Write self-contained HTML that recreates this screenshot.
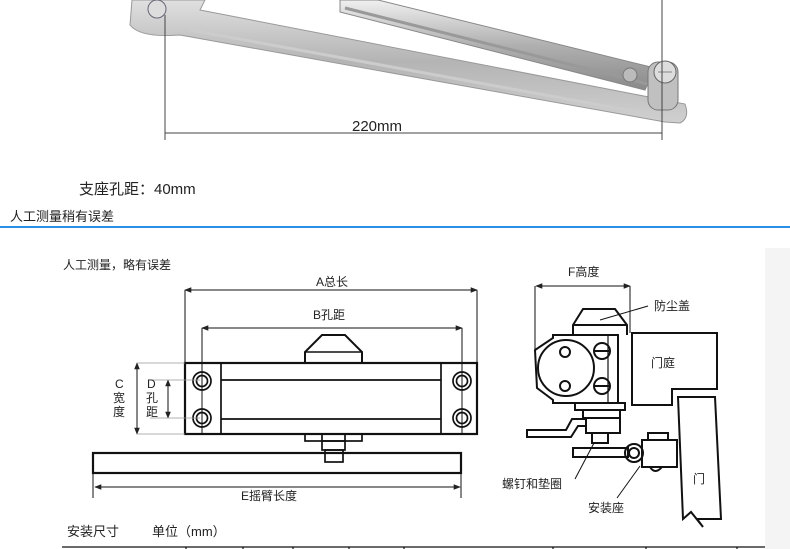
<!DOCTYPE html>
<html><head><meta charset="utf-8"><style>
html,body{margin:0;padding:0;background:#fff;}
body{width:790px;height:549px;overflow:hidden;position:relative;font-family:"Liberation Sans","Noto Sans CJK SC",sans-serif;}
svg{position:absolute;left:0;top:0;}
text{font-family:"Liberation Sans","Noto Sans CJK SC",sans-serif;fill:#222;}
</style></head><body>
<svg width="790" height="549" viewBox="0 0 790 549">
<defs>
<linearGradient id="g1" x1="0" y1="0" x2="0" y2="1">
<stop offset="0" stop-color="#e0e0e0"/><stop offset="0.5" stop-color="#b4b4b4"/><stop offset="1" stop-color="#d0d0d0"/>
</linearGradient>
<linearGradient id="g2" x1="0" y1="0" x2="0" y2="1">
<stop offset="0" stop-color="#f0f0f0"/><stop offset="0.5" stop-color="#b0b0b0"/><stop offset="1" stop-color="#8a8a8a"/>
</linearGradient>
<marker id="ar" viewBox="0 0 10 10" refX="9" refY="5" markerWidth="7" markerHeight="7" orient="auto-start-reverse"><path d="M0,1 L10,5 L0,9 z" fill="#222"/></marker>
</defs>
<rect x="765" y="248" width="25" height="301" fill="#f4f4f4"/>
<!-- photo arm -->
<path d="M132,0 L205,0 L200,10 L685,104 Q690,118 680,123 L665,122 L180,35 Q140,38 130,25 Z" fill="url(#g1)" stroke="#999" stroke-width="1"/>
<path d="M190,30 L665,117" stroke="#ccc" stroke-width="3"/>
<path d="M340,0 L378,0 L655,68 L645,90 L340,12 Z" fill="url(#g2)" stroke="#888" stroke-width="1"/>
<path d="M345,8 L648,84" stroke="#999" stroke-width="3"/>
<rect x="648" y="62" width="30" height="48" rx="10" fill="#c0c0c0" stroke="#777"/>
<circle cx="665" cy="72" r="11" fill="#ddd" stroke="#666"/>
<line x1="658" y1="72" x2="672" y2="72" stroke="#888"/>
<circle cx="630" cy="75" r="7" fill="#bbb" stroke="#777"/>
<circle cx="157" cy="9" r="9" fill="#ddd" stroke="#667"/>
<line x1="165" y1="15" x2="165" y2="140" stroke="#444"/>
<line x1="662" y1="0" x2="662" y2="140" stroke="#444"/>
<line x1="165" y1="133" x2="662" y2="133" stroke="#444"/>
<text x="352" y="131" font-size="15">220mm</text>
<text x="79" y="194" font-size="15">支座孔距：40mm</text>
<text x="10" y="221" font-size="13">人工测量稍有误差</text>
<rect x="0" y="226" width="790" height="2" fill="#2a8fe8"/>
<!-- left diagram -->
<g fill="none" stroke="#111" stroke-width="1.7">
<text x="63" y="269" font-size="12" stroke="none">人工测量，略有误差</text>
<line x1="185" y1="290" x2="477" y2="290" marker-start="url(#ar)" marker-end="url(#ar)" stroke-width="1"/>
<line x1="185" y1="290" x2="185" y2="363" stroke-width="1"/>
<line x1="477" y1="290" x2="477" y2="363" stroke-width="1"/>
<line x1="202" y1="328" x2="462" y2="328" marker-start="url(#ar)" marker-end="url(#ar)" stroke-width="1"/>
<line x1="202" y1="328" x2="202" y2="434" stroke-width="1"/>
<line x1="462" y1="328" x2="462" y2="434" stroke-width="1"/>
<path d="M305,363 L305,352 L322,335 L345,335 L362,352 L362,363" stroke-width="2"/>
<line x1="305" y1="352" x2="362" y2="352" stroke-width="1.5"/>
<rect x="185" y="363" width="292" height="71" stroke-width="2.2"/>
<line x1="221" y1="363" x2="221" y2="434"/>
<line x1="441" y1="363" x2="441" y2="434"/>
<line x1="221" y1="380" x2="441" y2="380"/>
<line x1="221" y1="419" x2="441" y2="419"/>
<circle cx="202" cy="381" r="9"/><circle cx="202" cy="381" r="5.5"/>
<circle cx="202" cy="418" r="9"/><circle cx="202" cy="418" r="5.5"/>
<circle cx="462" cy="381" r="9"/><circle cx="462" cy="381" r="5.5"/>
<circle cx="462" cy="418" r="9"/><circle cx="462" cy="418" r="5.5"/>
<rect x="305" y="434" width="57" height="7"/>
<line x1="322" y1="434" x2="322" y2="441"/><line x1="345" y1="434" x2="345" y2="441"/>
<rect x="322" y="441" width="23" height="9"/>
<rect x="325" y="450" width="18" height="12"/>
<rect x="93" y="453" width="368" height="20" stroke-width="2.2"/>
<line x1="95" y1="487" x2="460" y2="487" marker-start="url(#ar)" marker-end="url(#ar)" stroke-width="1"/>
<line x1="93" y1="473" x2="93" y2="498" stroke-width="1"/>
<line x1="461" y1="473" x2="461" y2="498" stroke-width="1"/>
<line x1="137" y1="363" x2="137" y2="434" marker-start="url(#ar)" marker-end="url(#ar)" stroke-width="1"/>
<line x1="137" y1="363" x2="185" y2="363" stroke="#999" stroke-width="0.8"/>
<line x1="137" y1="434" x2="185" y2="434" stroke="#999" stroke-width="0.8"/>
<line x1="168" y1="380" x2="168" y2="418" marker-start="url(#ar)" marker-end="url(#ar)" stroke-width="1"/>
<line x1="150" y1="380" x2="200" y2="380" stroke="#999" stroke-width="0.8"/>
<line x1="150" y1="418" x2="200" y2="418" stroke="#999" stroke-width="0.8"/>
</g>
<text x="316" y="286" font-size="12">A总长</text>
<text x="313" y="319" font-size="12">B孔距</text>
<text x="115" y="388" font-size="12">C</text>
<text x="113" y="402" font-size="12">宽</text>
<text x="113" y="416" font-size="12">度</text>
<text x="147" y="388" font-size="12">D</text>
<text x="146" y="402" font-size="12">孔</text>
<text x="146" y="416" font-size="12">距</text>
<text x="241" y="500" font-size="12">E摇臂长度</text>
<text x="67" y="536" font-size="13">安装尺寸</text>
<text x="152" y="536" font-size="13">单位（mm）</text>
<g stroke="#111" stroke-width="1.2">
<line x1="62" y1="547" x2="765" y2="547"/>
<line x1="186" y1="547" x2="186" y2="549"/><line x1="243" y1="547" x2="243" y2="549"/>
<line x1="293" y1="547" x2="293" y2="549"/><line x1="349" y1="547" x2="349" y2="549"/>
<line x1="404" y1="547" x2="404" y2="549"/><line x1="553" y1="547" x2="553" y2="549"/>
<line x1="646" y1="547" x2="646" y2="549"/><line x1="737" y1="547" x2="737" y2="549"/>
</g>
<!-- right diagram -->
<g fill="none" stroke="#111" stroke-width="2">
<line x1="536" y1="286" x2="630" y2="286" marker-start="url(#ar)" marker-end="url(#ar)" stroke-width="1"/>
<line x1="535" y1="286" x2="535" y2="350" stroke-width="1"/>
<line x1="630" y1="286" x2="630" y2="333" stroke-width="1"/>
<path d="M573,335 L573,325 L583,309 L615,309 L627,325 L627,335"/>
<line x1="573" y1="325" x2="627" y2="325"/>
<path d="M553,335 L618,335 L618,403 L553,403 L553,400 L537,388 L535,350 L553,338 Z"/>
<line x1="608" y1="335" x2="608" y2="403" stroke-width="1.2"/>
<circle cx="566" cy="368" r="28"/>
<circle cx="565" cy="352" r="5"/><circle cx="565" cy="386" r="5"/>
<circle cx="602" cy="351" r="8"/><line x1="594" y1="351" x2="610" y2="351"/>
<circle cx="602" cy="386" r="8"/><line x1="594" y1="386" x2="610" y2="386"/>
<path d="M632,333 L717,333 L717,389 L672,389 L672,405 L632,405 Z"/>
<path d="M678,397 L715,397 L721,519 L697,519 L703,527 L691,512 L683,519 Z"/>
<rect x="575" y="403" width="50" height="7"/>
<rect x="583" y="410" width="37" height="8"/>
<rect x="586" y="418" width="34" height="15"/>
<rect x="592" y="433" width="16" height="10"/>
<path d="M527,430 L566,430 L572,419 L586,419 L586,426 L578,426 L571,437 L527,437 Z"/>
<rect x="573" y="448" width="55" height="9"/>
<circle cx="634" cy="453" r="9"/><circle cx="634" cy="453" r="5"/>
<rect x="642" y="440" width="35" height="27"/>
<rect x="648" y="433" width="20" height="7"/>
<path d="M650,467 Q655,475 662,467"/>
<line x1="600" y1="320" x2="648" y2="306" stroke-width="1"/>
<line x1="575" y1="479" x2="594" y2="443" stroke-width="1"/>
<line x1="617" y1="498" x2="640" y2="466" stroke-width="1"/>
</g>
<text x="568" y="276" font-size="12">F高度</text>
<text x="654" y="310" font-size="12">防尘盖</text>
<text x="651" y="367" font-size="12">门庭</text>
<text x="693" y="483" font-size="12">门</text>
<text x="502" y="488" font-size="12">螺钉和垫圈</text>
<text x="588" y="512" font-size="12">安装座</text>
</svg>
</body></html>
